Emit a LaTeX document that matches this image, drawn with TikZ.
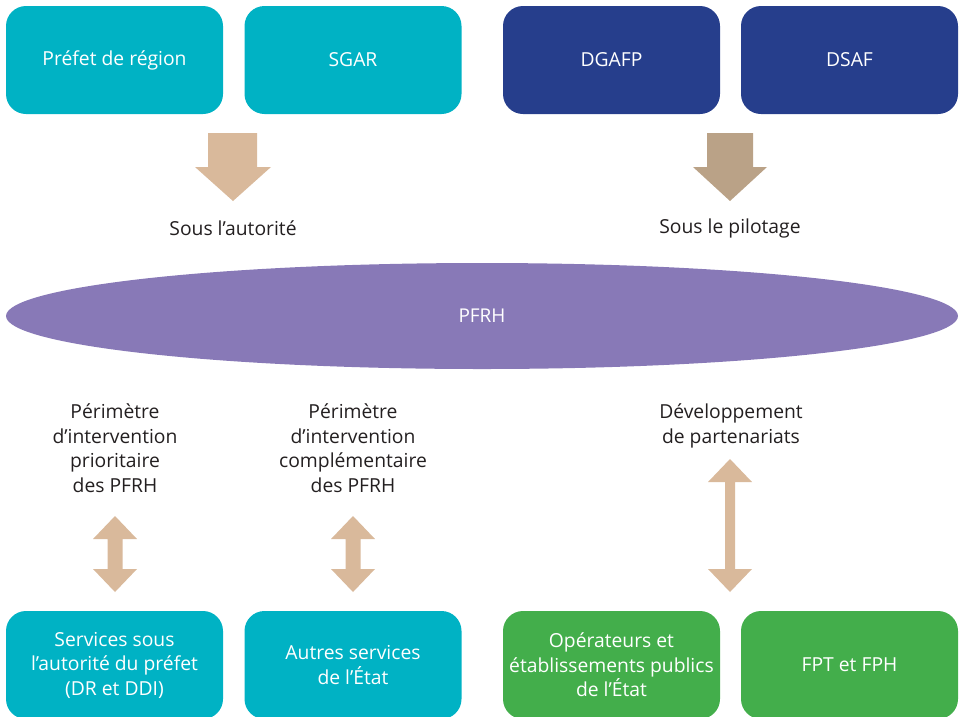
\documentclass[tikz,border=0pt]{standalone}
\usepackage{fontspec}
\setmainfont{Open Sans}
\usetikzlibrary{shapes.geometric}
\definecolor{teal}{RGB}{0,178,196}
\definecolor{navy}{RGB}{38,62,140}
\definecolor{grn}{RGB}{67,174,75}
\definecolor{purp}{RGB}{136,121,183}
\definecolor{tanA}{RGB}{217,185,155}
\definecolor{tanB}{RGB}{186,162,135}
\definecolor{txt}{RGB}{35,31,32}
\begin{document}
\begin{tikzpicture}[x=1pt,y=-1pt,
  box/.style={rectangle, rounded corners=20pt, minimum width=217pt, minimum height=108pt, inner sep=0pt, text=white, align=center, font=\fontsize{19.3}{24.5}\selectfont},
  lbl/.style={text=txt, align=center, inner sep=0pt, font=\fontsize{19.3}{24.5}\selectfont},
  blk/.style={fill=tanA, draw=none}
]
\useasboundingbox (0,0) rectangle (961,716);
% top boxes
\node[box, fill=teal] (prefet) at (114.5,60) {Préfet de région};
\node[box, fill=teal] (sgar) at (353,60) {SGAR};
\node[box, fill=navy] (dgafp) at (611.5,60) {DGAFP};
\node[box, fill=navy] (dsaf) at (849.5,60) {DSAF};
% down arrows
\fill[blk] (208,133) -- (257,133) -- (257,167) -- (271,167) -- (233,201) -- (195,167) -- (208,167) -- cycle;
\fill[blk, fill=tanB] (707,133) -- (753,133) -- (753,167) -- (767,167) -- (730,201) -- (693,167) -- (707,167) -- cycle;
\node[lbl] (autorite) at (233,228) {Sous l’autorité};
\node[lbl] (pilotage) at (730,228) {Sous le pilotage};
% ellipse
\node[ellipse, fill=purp, minimum width=952pt, minimum height=106pt, inner sep=0pt, text=white, font=\fontsize{19}{24.5}\selectfont] (pfrh) at (482,316) {PFRH};
% labels
\node[lbl, anchor=north] (prio) at (115,404) {Périmètre\\d’intervention\\prioritaire\\des PFRH};
\node[lbl, anchor=north] (compl) at (353,404) {Périmètre\\d’intervention\\complémentaire\\des PFRH};
\node[lbl, anchor=north] (dev) at (731,404) {Développement\\de partenariats};
% double arrows
\fill[blk] (115,516) -- (137,539) -- (122.5,539) -- (122.5,569) -- (137,569) -- (115,592) -- (93,569) -- (107.5,569) -- (107.5,539) -- (93,539) -- cycle;
\fill[blk] (353,516) -- (375,539) -- (360.5,539) -- (360.5,569) -- (375,569) -- (353,592) -- (331,569) -- (345.5,569) -- (345.5,539) -- (331,539) -- cycle;
\fill[blk] (730,459) -- (752,482) -- (735,482) -- (735,569) -- (752,569) -- (730,592) -- (708,569) -- (725,569) -- (725,482) -- (708,482) -- cycle;
% bottom boxes
\node[box, fill=teal] (services) at (114.5,665) {Services sous\\l’autorité du préfet\\(DR et DDI)};
\node[box, fill=teal] (autres) at (353,665) {Autres services\\de l’État};
\node[box, fill=grn] (operateurs) at (611.5,665) {Opérateurs et\\établissements publics\\de l’État};
\node[box, fill=grn] (fpt) at (849.5,665) {FPT et FPH};
\end{tikzpicture}
\end{document}
